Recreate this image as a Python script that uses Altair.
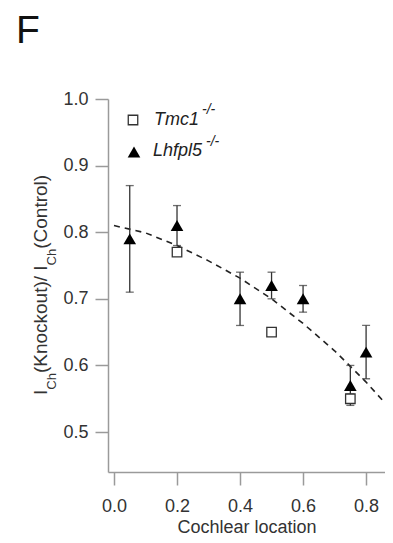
import altair as alt
import pandas as pd

# ---- data ----
lh_x = [0.05, 0.2, 0.4, 0.5, 0.6, 0.75, 0.8]
lh_y = [0.79, 0.81, 0.70, 0.72, 0.70, 0.57, 0.62]
lh_lo = [0.71, 0.78, 0.66, 0.70, 0.68, 0.54, 0.58]
lh_hi = [0.87, 0.84, 0.74, 0.74, 0.72, 0.60, 0.66]

tm_x = [0.2, 0.5, 0.75]
tm_y = [0.77, 0.65, 0.55]
tm_lo = [0.77, 0.65, 0.543]
tm_hi = [0.77, 0.65, 0.557]

fit_x = [0.0, 0.1, 0.2, 0.3, 0.4, 0.5, 0.6, 0.7, 0.8, 0.88]
fit_y = [0.81, 0.799, 0.78, 0.757, 0.731, 0.70, 0.663, 0.622, 0.575, 0.533]

x_ticks = [0.0, 0.2, 0.4, 0.6, 0.8]
y_ticks = [0.5, 0.6, 0.7, 0.8, 0.9, 1.0]

lh = pd.DataFrame({"x": lh_x, "y": lh_y, "lo": lh_lo, "hi": lh_hi})
tm = pd.DataFrame({"x": tm_x, "y": tm_y, "lo": tm_lo, "hi": tm_hi})
fit = pd.DataFrame({"x": fit_x, "y": fit_y})

FONT = "Liberation Sans"
AX = "#9a9a9a"
TXT = "#333333"

xs = alt.Scale(domain=[-0.019, 0.86], nice=False, zero=False)
ys = alt.Scale(domain=[0.44, 1.0], nice=False, zero=False)

xax = alt.Axis(values=x_ticks, format=".1f", grid=False, tickSize=13, tickColor=AX,
               tickWidth=1.5, domainColor=AX, domainWidth=1.5, labelFontSize=18,
               labelFont=FONT, labelColor=TXT, labelPadding=12,
               title="Cochlear location", titleFont=FONT, titleFontSize=18,
               titleFontWeight="normal", titleColor=TXT, titlePadding=3)
yax = alt.Axis(values=y_ticks, format=".1f", grid=False, tickSize=13, tickColor=AX,
               tickWidth=1.5, domainColor=AX, domainWidth=1.5, labelFontSize=18,
               labelFont=FONT, labelColor=TXT, labelPadding=7, title=None)

line = alt.Chart(fit).mark_line(color="#222", strokeDash=[6, 5], strokeWidth=1.6, clip=True).encode(
    x=alt.X("x:Q", scale=xs, axis=xax), y=alt.Y("y:Q", scale=ys, axis=yax))

err_lh = alt.Chart(lh).mark_errorbar(ticks={"size": 8, "thickness": 1.3, "color": "#333"},
                                     color="#333", thickness=1.3).encode(
    x=alt.X("x:Q", scale=xs), y=alt.Y("lo:Q", scale=ys), y2="hi:Q")
err_tm = alt.Chart(tm.iloc[[2]]).mark_errorbar(ticks={"size": 8, "thickness": 1.3, "color": "#333"},
                                               color="#333", thickness=1.3).encode(
    x=alt.X("x:Q", scale=xs), y=alt.Y("lo:Q", scale=ys), y2="hi:Q")

tri = alt.Chart(lh).mark_point(shape="triangle-up", filled=True, color="#000", size=160, opacity=1).encode(
    x=alt.X("x:Q", scale=xs), y=alt.Y("y:Q", scale=ys))
sq = alt.Chart(tm).mark_point(shape="square", filled=True, fill="white", stroke="#333",
                              strokeWidth=1.3, size=90, opacity=1).encode(
    x=alt.X("x:Q", scale=xs), y=alt.Y("y:Q", scale=ys))

one = alt.Data(values=[{"a": 1}])


def txt(s, x, y, size, **kw):
    return alt.Chart(one).mark_text(text=s, fontSize=size, font=FONT, align="left",
                                    baseline="alphabetic", color=kw.pop("color", "#222"), **kw).encode(
        x=alt.value(x), y=alt.value(y))


layers = [line, err_lh, err_tm, tri, sq]

# panel letter
layers.append(txt("F", -92, -56, 39, color="#111"))

# legend
layers.append(alt.Chart(one).mark_point(shape="square", filled=True, fill="white", stroke="#333",
                                        strokeWidth=1.3, size=90, opacity=1).encode(
    x=alt.value(25), y=alt.value(21)))
layers.append(alt.Chart(one).mark_point(shape="triangle-up", filled=True, color="#000",
                                        size=160, opacity=1).encode(
    x=alt.value(26), y=alt.value(53)))
layers.append(txt("Tmc1", 46, 26, 18, fontStyle="italic"))
layers.append(txt("-/-", 94, 15, 14, fontStyle="italic"))
layers.append(txt("Lhfpl5", 45, 57, 18, fontStyle="italic"))
layers.append(txt("-/-", 98, 47, 14, fontStyle="italic"))

# rotated y title with subscripts
MAIN, SUB = 19, 13
xb, xs_sub = -61, -52
pieces = [("I", MAIN, xb, 0.278), ("Ch", SUB, xs_sub, 1.278),
          ("(Knockout)/ ", MAIN, xb, 5.391), ("I", MAIN, xb, 0.278),
          ("Ch", SUB, xs_sub, 1.278), ("(Control)", MAIN, xb, 3.889)]
ypos = 296
for s, size, xx, em in pieces:
    layers.append(txt(s, xx, ypos, size, angle=270, color=TXT))
    ypos -= em * size

chart = alt.layer(*layers).properties(
    width=277, height=373,
    padding={"left": 100, "top": 91, "right": 0, "bottom": 63},
    autosize=alt.AutoSizeParams(type="none"),
).configure_view(stroke=None)

chart.save("out.html", embed_options={"renderer": "svg", "actions": False})
